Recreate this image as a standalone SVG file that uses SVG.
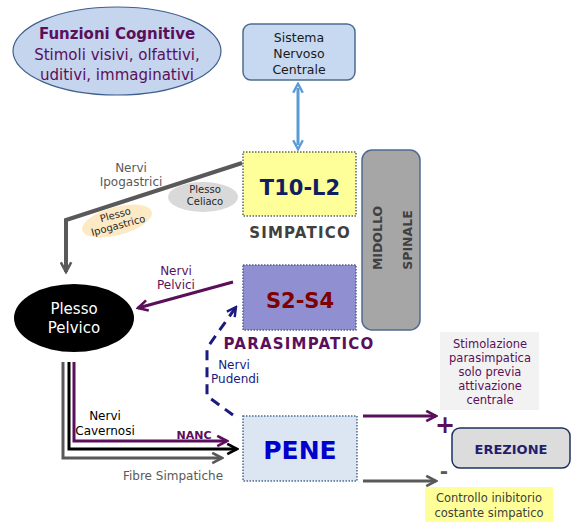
<svg xmlns="http://www.w3.org/2000/svg" width="580" height="529" viewBox="0 0 580 529">
<style>
text{font-family:"DejaVu Sans","Verdana",sans-serif;}
.c{text-anchor:middle;}
.b{font-weight:bold;}
.dot{stroke-dasharray:1.5 1.5;stroke-width:1.5;}
.lbl{letter-spacing:1.2px;}
</style>
<defs>
<marker id="mGray" viewBox="0 0 10 10" refX="8.5" refY="5" markerWidth="13" markerHeight="13" markerUnits="userSpaceOnUse" orient="auto"><path d="M1,1 L8.5,5 L1,9" fill="none" stroke="#595959" stroke-width="2"/></marker>
<marker id="mPurple" viewBox="0 0 10 10" refX="8.5" refY="5" markerWidth="13" markerHeight="13" markerUnits="userSpaceOnUse" orient="auto"><path d="M1,1 L8.5,5 L1,9" fill="none" stroke="#5b0f5b" stroke-width="2"/></marker>
<marker id="mBlack" viewBox="0 0 10 10" refX="8.5" refY="5" markerWidth="13" markerHeight="13" markerUnits="userSpaceOnUse" orient="auto"><path d="M1,1 L8.5,5 L1,9" fill="none" stroke="#000" stroke-width="2"/></marker>
<marker id="mNavy" viewBox="0 0 10 10" refX="8.5" refY="5" markerWidth="12" markerHeight="12" markerUnits="userSpaceOnUse" orient="auto"><path d="M1,1 L8.5,5 L1,9" fill="none" stroke="#1a1a80" stroke-width="2"/></marker>
<marker id="mBlue" viewBox="0 0 10 10" refX="5" refY="5" markerWidth="12" markerHeight="12" markerUnits="userSpaceOnUse" orient="auto-start-reverse"><path d="M1,1 L8.5,5 L1,9" fill="none" stroke="#5b9bd5" stroke-width="2"/></marker>
</defs>
<rect width="580" height="529" fill="#fff"/>

<g id="connectors">
<line x1="298" y1="88" x2="298" y2="145" stroke="#5b9bd5" stroke-width="3" marker-start="url(#mBlue)" marker-end="url(#mBlue)"/>
<polyline points="242,163 66,220 66,272" fill="none" stroke="#595959" stroke-width="4" marker-end="url(#mGray)"/>
<line x1="233" y1="282" x2="138" y2="308" stroke="#5b0f5b" stroke-width="3" marker-end="url(#mPurple)"/>
<polyline points="233,415 207,396 207,348 236,307" fill="none" stroke="#1a1a80" stroke-width="3" stroke-dasharray="10 7" marker-end="url(#mNavy)"/>
<polyline points="63,362 63,458 222,458" fill="none" stroke="#595959" stroke-width="3" marker-end="url(#mGray)"/>
<polyline points="69,362 69,449 237,449" fill="none" stroke="#000" stroke-width="3" marker-end="url(#mBlack)"/>
<polyline points="74,362 74,441 227,441" fill="none" stroke="#5b0f5b" stroke-width="3" marker-end="url(#mPurple)"/>
<line x1="363" y1="416" x2="436" y2="416" stroke="#5b0f5b" stroke-width="3" marker-end="url(#mPurple)"/>
<line x1="363" y1="481" x2="436" y2="481" stroke="#595959" stroke-width="3" marker-end="url(#mGray)"/>
</g>

<g id="funzioni">
<ellipse cx="117" cy="51" rx="104" ry="44" fill="#c5d5ee" stroke="#3f5f8f" stroke-width="1.2"/>
<text x="117" y="39" class="c b" font-size="15" fill="#5b0f5b">Funzioni Cognitive</text>
<text x="117" y="60" class="c" font-size="15" fill="#5b0f5b">Stimoli visivi, olfattivi,</text>
<text x="117" y="80" class="c" font-size="15" fill="#5b0f5b">uditivi, immaginativi</text>
</g>

<g id="snc">
<rect x="243" y="24" width="112" height="56" rx="8" fill="#c6d9f0" stroke="#4f6b8f" stroke-width="1.5"/>
<text x="299" y="42" class="c" font-size="12.5" fill="#1a1a1a">Sistema</text>
<text x="299" y="58" class="c" font-size="12.5" fill="#1a1a1a">Nervoso</text>
<text x="299" y="74" class="c" font-size="12.5" fill="#1a1a1a">Centrale</text>
</g>

<g id="nervi-ipogastrici">
<text x="131" y="172" class="c" font-size="12" fill="#595959">Nervi</text>
<text x="131" y="186" class="c" font-size="12" fill="#595959">Ipogastrici</text>
</g>

<g id="plesso-celiaco">
<ellipse cx="203" cy="197" rx="35" ry="15" fill="#d9d9d9"/>
<text x="205" y="193" class="c" font-size="10" fill="#262626">Plesso</text>
<text x="205" y="205" class="c" font-size="10" fill="#262626">Celiaco</text>
</g>

<g id="plesso-ipogastrico" transform="rotate(-15 117 221)">
<ellipse cx="117" cy="221" rx="36" ry="14" fill="#fde9c4"/>
<text x="117" y="218" class="c" font-size="10" fill="#262626">Plesso</text>
<text x="117" y="229" class="c" font-size="10" fill="#262626">Ipogastrico</text>
</g>

<g id="t10l2">
<rect x="243" y="152" width="113" height="64" fill="#ffff99" stroke="#5a6a5a" class="dot"/>
<text x="300" y="195" class="c b" font-size="21" fill="#0f1f5f">T10-L2</text>
<text x="300" y="238" class="c b lbl" font-size="15" fill="#404040">SIMPATICO</text>
</g>

<g id="midollo">
<rect x="362" y="150" width="58" height="180" rx="10" fill="#a6a6a6" stroke="#4f6b8f" stroke-width="1.5"/>
<text x="382" y="238" class="c b" font-size="12.5" fill="#404040" transform="rotate(-90 382 238)">MIDOLLO</text>
<text x="412" y="240" class="c b" font-size="12.5" fill="#404040" transform="rotate(-90 412 240)">SPINALE</text>
</g>

<g id="s2s4">
<rect x="243" y="265" width="113" height="65" fill="#8f8fd2" stroke="#4f5f8f" class="dot"/>
<text x="300" y="308" class="c b" font-size="21" fill="#7f0000">S2-S4</text>
<text x="299" y="349" class="c b lbl" font-size="15" fill="#5b0f5b">PARASIMPATICO</text>
</g>

<g id="nervi-pelvici">
<text x="176" y="275" class="c" font-size="12" fill="#5b0f5b">Nervi</text>
<text x="176" y="289" class="c" font-size="12" fill="#5b0f5b">Pelvici</text>
</g>

<g id="plesso-pelvico">
<ellipse cx="74" cy="318" rx="60" ry="34" fill="#000"/>
<text x="74" y="314" class="c" font-size="15" fill="#fff">Plesso</text>
<text x="74" y="333" class="c" font-size="15" fill="#fff">Pelvico</text>
</g>

<g id="nervi-pudendi">
<text x="234" y="369" class="c" font-size="12" fill="#1a1a80">Nervi</text>
<text x="211" y="383" font-size="12" fill="#1a1a80">Pudendi</text>
</g>

<g id="nervi-cavernosi">
<text x="105" y="420" class="c" font-size="12" fill="#000">Nervi</text>
<text x="105" y="435" class="c" font-size="12" fill="#000">Cavernosi</text>
<text x="194" y="439" class="c b" font-size="11" fill="#5b0f5b">NANC</text>
<text x="173" y="480" class="c" font-size="12" fill="#595959">Fibre Simpatiche</text>
</g>

<g id="pene">
<rect x="243" y="416" width="114" height="65" fill="#dce6f2" stroke="#4f6b8f" class="dot"/>
<text x="300" y="459" class="c b" font-size="25" fill="#0000cc">PENE</text>
</g>

<g id="stimolazione">
<rect x="440" y="332" width="99" height="78" fill="#f2f2f2"/>
<text x="490" y="348" class="c" font-size="11.5" fill="#5b0f5b">Stimolazione</text>
<text x="490" y="362" class="c" font-size="11.5" fill="#5b0f5b">parasimpatica</text>
<text x="490" y="376" class="c" font-size="11.5" fill="#5b0f5b">solo previa</text>
<text x="490" y="390" class="c" font-size="11.5" fill="#5b0f5b">attivazione</text>
<text x="490" y="404" class="c" font-size="11.5" fill="#5b0f5b">centrale</text>
</g>

<g id="plus-minus">
<text x="445" y="433" class="c b" font-size="24" fill="#5b0f5b">+</text>
<text x="444" y="478" class="c b" font-size="20" fill="#595959">-</text>
</g>

<g id="erezione">
<rect x="452" y="428" width="118" height="40" rx="8" fill="#dcdcdc" stroke="#1f2f5f" stroke-width="1.5"/>
<text x="511" y="454" class="c b" font-size="13" fill="#1f1f6f">EREZIONE</text>
</g>

<g id="controllo">
<rect x="425" y="487" width="128" height="35" fill="#ffff99"/>
<text x="489" y="502" class="c" font-size="11.5" fill="#404040">Controllo inibitorio</text>
<text x="489" y="517" class="c" font-size="11.5" fill="#404040">costante simpatico</text>
</g>
</svg>
